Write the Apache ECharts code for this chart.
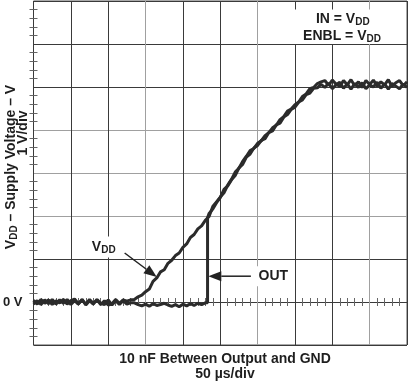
<!DOCTYPE html>
<html><head><meta charset="utf-8">
<script src="https://cdn.jsdelivr.net/npm/echarts@6/dist/echarts.min.js"></script>
<style>html,body{margin:0;padding:0;background:#fff}#c{width:408px;height:382px}</style>
</head><body><div id="c"></div>
<script>
// ---- data (time in µs, voltage in V) ----
const vddTime = [0,5,10,15,20,25,30,35,40,45,50,55,60,65,70,75,80,85,90,95,100,105,110,115,120,125,130,
  135,140,145,150,155,160,165,170,175,180,185,190,195,200,205,210,215,220,225,230,235,240,245,250,255,260,265,270,275,280,285,290,295,300,305,310,315,320,325,330,335,340,345,350,355,360,365,370,375,380,385,
  390,395,400,405,410,415,420,425,430,435,440,445,450,455,460,465,470,475,480,485,490,495,500];
const vddVolt = [0.04,-0.05,0.06,-0.03,0.05,-0.06,0.03,-0.02,0.06,-0.05,0.03,0.07,-0.04,0.05,-0.05,0.06,-0.03,0.05,-0.06,0.03,-0.07,-0.04,0.06,-0.03,0.05,0.02,0.05,
  0.06,0.12,0.16,0.24,0.30,0.48,0.56,0.70,0.75,0.90,0.97,1.08,1.14,1.27,1.35,1.50,1.57,1.70,1.77,1.90,1.99,2.22,2.33,2.44,2.54,2.72,2.85,3.02,3.11,3.27,3.39,3.52,3.57,3.69,3.75,3.87,3.94,4.05,4.11,4.24,4.31,4.44,4.49,4.59,4.65,4.78,4.84,4.96,4.99,5.08,5.12,
  5.15,5.04,5.16,5.07,5.01,5.15,5.05,5.17,5.03,5.12,4.99,5.15,5.06,5.16,5.02,5.12,5.05,5.17,5.01,5.10,5.15,5.03,5.12];
const outTime = [0,5,10,15,20,25,30,35,40,45,50,55,60,65,70,75,80,85,90,95,100,105,110,115,120,125,130,
  135,140,145,150,155,160,165,170,175,180,185,190,195,200,205,210,215,220,225,230,233,233,
  235,240,245,250,255,260,265,270,275,280,285,290,295,300,305,310,315,320,325,330,335,340,345,350,355,360,365,370,375,380,385,
  390,395,400,405,410,415,420,425,430,435,440,445,450,455,460,465,470,475,480,485,490,495,500];
const outVolt = [-0.05,0.03,-0.06,0.05,-0.04,0.06,-0.05,0.05,-0.03,0.06,-0.06,0.03,-0.05,0.06,-0.07,0.03,-0.05,0.06,-0.03,-0.06,0.05,-0.07,0.03,-0.06,0.03,-0.05,-0.02,
  -0.02,-0.06,-0.09,-0.05,-0.10,-0.04,-0.08,-0.06,-0.03,-0.07,-0.10,-0.06,-0.11,-0.05,-0.09,-0.04,-0.08,-0.03,-0.06,-0.02,-0.02,1.96,
  2.06,2.16,2.31,2.43,2.62,2.70,2.84,2.94,3.12,3.20,3.37,3.44,3.58,3.64,3.76,3.80,3.94,3.98,4.12,4.16,4.30,4.36,4.48,4.53,4.65,4.70,4.82,4.86,4.97,4.98,5.06,
  4.99,5.09,4.96,5.05,5.11,4.97,5.07,4.95,5.08,4.99,5.10,4.96,5.05,5.00,5.11,4.97,5.07,4.95,5.08,5.02,4.96,5.07,4.99];
const yTickLabels = {0: '0 V'};

// ---- chart ----
const FONT = '"Liberation Sans", Arial, sans-serif';
const TXT = '#1e1e1e';
const dark = '#3a3a3a', light = '#a0a0a0';
const xLineColors = [dark, dark, dark, light, dark, dark, light, dark, dark, light, dark];
const yLineColors = [dark, dark, dark, light, light, light, dark, dark, dark];
const minor = {show: true, splitNumber: 5, length: 4, lineStyle: {color: '#666', width: 1}};
const zip = (a, b) => a.map((t, i) => [t, b[i]]);

const chart = echarts.init(document.getElementById('c'));
const baseAxisX = {type: 'value', min: 0, max: 500, interval: 50, axisLine: {show: false},
  axisTick: {show: false, inside: true}, minorTick: minor, axisLabel: {show: false}};
const baseAxisY = {type: 'value', min: -1, max: 7, interval: 1, axisLine: {show: false},
  axisTick: {show: false, inside: true}, minorTick: minor};
chart.setOption({
  animation: false,
  backgroundColor: '#fff',
  grid: {left: 31, right: 1, top: 1, bottom: 37, show: true, borderColor: '#555', borderWidth: 1},
  xAxis: [
    Object.assign({}, baseAxisX, {position: 'bottom', splitLine: {show: true, lineStyle: {color: xLineColors, width: 1}}}),
    Object.assign({}, baseAxisX, {position: 'top', splitLine: {show: false}})
  ],
  yAxis: [
    Object.assign({}, baseAxisY, {position: 'left', splitLine: {show: true, lineStyle: {color: yLineColors, width: 1}},
      axisLabel: {show: true, margin: 11, color: TXT, fontSize: 13, fontWeight: 'bold', fontFamily: FONT,
        formatter: v => yTickLabels[v] || ''}}),
    Object.assign({}, baseAxisY, {position: 'right', splitLine: {show: false}, axisLabel: {show: false}})
  ],
  series: [
    {name: 'VDD', type: 'line', data: zip(vddTime, vddVolt), showSymbol: false, z: 3,
      lineStyle: {color: '#2b2b2b', width: 3}},
    {name: 'OUT', type: 'line', data: zip(outTime, outVolt), showSymbol: false, z: 3,
      lineStyle: {color: '#2b2b2b', width: 3}}
  ]
});

const px = p => chart.convertToPixel({gridIndex: 0}, p);
const rich = size => ({
  m: {fontSize: size, fontWeight: 'bold', fontFamily: FONT, fill: TXT, color: TXT},
  s: {fontSize: Math.round(size * 0.72), fontWeight: 'bold', fontFamily: FONT, fill: TXT, color: TXT, padding: [7, 0, 0, 0]}
});
function arrow(from, to, len, hw) {
  const a = px(from), b = px(to);
  const dx = b[0] - a[0], dy = b[1] - a[1], L = Math.hypot(dx, dy);
  const ux = dx / L, uy = dy / L, nx = -uy, ny = ux;
  const bx = b[0] - ux * len, by = b[1] - uy * len;
  return [
    {type: 'line', z: 10, shape: {x1: a[0], y1: a[1], x2: bx, y2: by}, style: {stroke: '#222', lineWidth: 1.5}},
    {type: 'polygon', z: 10, shape: {points: [[b[0], b[1]], [bx + nx * hw, by + ny * hw], [bx - nx * hw, by - ny * hw]]}, style: {fill: '#222'}}
  ];
}
function label(pos, text, size, opts) {
  const p = px(pos);
  return Object.assign({type: 'text', z: 11, x: p[0], y: p[1],
    style: Object.assign({text: text, rich: rich(size), align: 'center', verticalAlign: 'middle'}, opts || {})});
}
const boxA = px([344, 6.8]), boxB = px([484, 6.0]);
const graphics = [
  {type: 'rect', z: 9, shape: {x: boxA[0], y: boxA[1], width: boxB[0] - boxA[0], height: boxB[1] - boxA[1]}, style: {fill: '#fff'}},
  label([414, 6.58], '{m|IN = V}{s|DD}', 14),
  label([413, 6.19], '{m|ENBL = V}{s|DD}', 14),
  label([94, 1.28], '{m|V}{s|DD}', 14, {backgroundColor: '#fff', padding: [2, 4, 2, 4]}),
  label([321, 0.6], '{m|OUT}', 14, {backgroundColor: '#fff', padding: [3, 6, 3, 6]}),
  ...arrow([122, 1.14], [165, 0.58], 13, 5),
  ...arrow([291, 0.6], [234, 0.6], 13, 5),
  {type: 'text', z: 11, x: 11, y: 167, rotation: Math.PI / 2,
    style: {text: '{m|V}{s|DD}{m| – Supply Voltage – V}', rich: rich(14), align: 'center', verticalAlign: 'middle'}},
  {type: 'text', z: 11, x: 23, y: 133, rotation: Math.PI / 2,
    style: {text: '{m|1 V/div}', rich: rich(14), align: 'center', verticalAlign: 'middle'}},
  {type: 'text', z: 11, x: 225, y: 359,
    style: {text: '{m|10 nF Between Output and GND}', rich: rich(14), align: 'center', verticalAlign: 'middle'}},
  {type: 'text', z: 11, x: 225, y: 374,
    style: {text: '{m|50 µs/div}', rich: rich(14), align: 'center', verticalAlign: 'middle'}}
];
chart.setOption({graphic: graphics});
</script></body></html>
